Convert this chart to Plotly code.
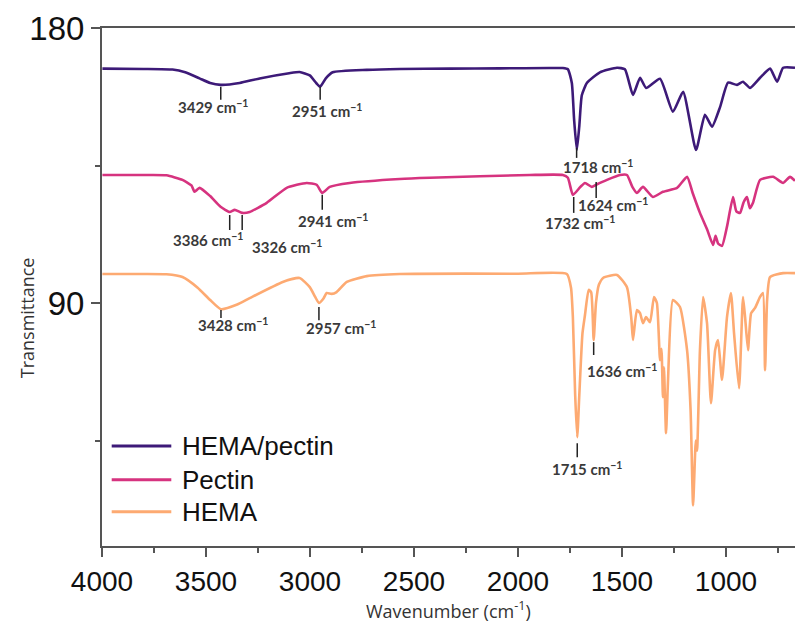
import plotly.graph_objects as go

# ---------------- data ----------------
hp_wn = [3998, 3800, 3661, 3600, 3531, 3480, 3429, 3338, 3242, 3100, 3050, 3001, 2970, 2951, 2924, 2891,
         2727, 2568, 2328, 2087, 1850, 1784, 1760, 1741, 1730, 1717, 1705, 1693, 1668, 1606, 1524, 1486,
         1447, 1413, 1384, 1317, 1255, 1206, 1144, 1101, 1067, 1028, 990, 947, 918, 884, 836, 788, 754,
         725, 668]
hp_t = [166.7, 166.6, 166.4, 165.5, 163.5, 162.0, 161.4, 162.0, 163.5, 165.2, 165.6, 164.5, 162.0, 160.8,
        163.5, 165.5, 166.3, 166.6, 166.7, 166.8, 166.9, 166.9, 166.5, 162.0, 150.0, 140.1, 148.0, 158.0,
        162.1, 165.5, 167.0, 166.5, 158.1, 163.7, 160.4, 163.4, 152.6, 159.1, 140.1, 151.6, 147.7, 154.2,
        162.1, 161.4, 162.4, 160.4, 163.7, 166.7, 162.4, 167.0, 167.0]

pe_wn = [3998, 3800, 3690, 3613, 3570, 3555, 3531, 3480, 3430, 3386, 3362, 3326, 3290, 3208, 3112, 3016,
         2968, 2941, 2905, 2809, 2568, 2424, 1943, 1784, 1760, 1736, 1700, 1678, 1645, 1624, 1572, 1510,
         1476, 1450, 1428, 1399, 1351, 1303, 1235, 1187, 1160, 1125, 1090, 1062, 1050, 1038, 1019, 995,
         966, 950, 932, 915, 899, 885, 870, 836, 773, 725, 692, 668]
pe_t = [131.9, 131.9, 131.8, 130.3, 128.5, 126.4, 127.7, 125.0, 121.5, 119.8, 120.5, 119.5, 119.8, 122.8,
        127.7, 129.3, 128.7, 126.0, 128.0, 129.3, 130.6, 131.0, 131.9, 131.9, 131.0, 125.4, 128.0, 129.3,
        128.0, 128.7, 130.3, 131.9, 131.9, 128.0, 126.0, 128.0, 124.7, 126.4, 127.7, 131.3, 126.0, 119.5,
        114.0, 109.0, 112.0, 109.5, 108.7, 115.0, 124.7, 120.0, 119.5, 123.0, 124.7, 121.0, 122.8, 130.3,
        131.3, 129.3, 131.3, 130.0]

he_wn = [3998, 3800, 3690, 3613, 3540, 3480, 3428, 3350, 3290, 3131, 3050, 3001, 2975, 2957, 2935, 2920,
         2896, 2872, 2823, 2727, 2568, 2000, 1765, 1745, 1736, 1725, 1715, 1705, 1690, 1678, 1660, 1648,
         1636, 1625, 1611, 1591, 1524, 1476, 1455, 1447, 1428, 1413, 1399, 1384, 1365, 1346, 1332, 1317,
         1310, 1303, 1298, 1288, 1279, 1255, 1221, 1187, 1170, 1158, 1145, 1139, 1125, 1110, 1091, 1072,
         1052, 1038, 1019, 995, 976, 961, 937, 918, 908, 894, 879, 860, 836, 822, 812, 802, 788, 725, 668]
he_t = [99.5, 99.5, 99.4, 98.5, 95.0, 91.0, 88.0, 89.5, 91.6, 96.9, 98.2, 95.2, 92.0, 90.0, 91.5, 93.3,
        93.0, 93.6, 96.9, 98.8, 99.5, 99.6, 99.5, 95.0, 85.4, 60.0, 46.1, 60.0, 80.0, 86.0, 94.3, 93.5,
        77.9, 90.0, 96.0, 98.2, 99.2, 95.2, 85.0, 77.9, 87.7, 86.7, 83.4, 85.4, 83.7, 92.0, 90.0, 71.3,
        75.0, 59.2, 69.0, 47.4, 63.8, 91.0, 88.7, 74.6, 55.0, 23.8, 45.0, 41.7, 74.6, 92.0, 83.4, 57.2,
        74.6, 77.9, 64.8, 85.4, 93.3, 80.1, 62.1, 92.0, 85.4, 74.6, 86.7, 88.4, 92.0, 93.3, 68.0, 91.0,
        98.5, 99.8, 99.8]

series_names = ["HEMA/pectin", "Pectin", "HEMA"]
series_colors = ["#3d1a78", "#d6337f", "#fdaa72"]

x_ticks = [4000, 3500, 3000, 2500, 2000, 1500, 1000]
y_ticks = [90, 180]

# peak labels: text, peak wavenumber, tick y0, tick y1, text wavenumber, text y
peak_labels = [
    ("3429", 3429, 160.8, 156.5, 3468, 154.3),
    ("2951", 2951, 160.8, 156.5, 2920, 153.0),
    ("1718", 1718, 140.8, 137.5, 1615, 134.6),
    ("3386", 3386, 118.8, 113.9, 3492, 110.7),
    ("3326", 3326, 118.8, 113.9, 3112, 108.4),
    ("2941", 2941, 125.4, 120.5, 2891, 116.9),
    ("1732", 1732, 124.7, 119.5, 1702, 116.2),
    ("1624", 1624, 129.6, 124.4, 1543, 122.4),
    ("3428", 3428, 87.7, 85.1, 3372, 83.1),
    ("2957", 2957, 88.7, 84.4, 2852, 82.1),
    ("1636", 1636, 77.2, 73.0, 1500, 68.0),
    ("1715", 1715, 44.1, 39.5, 1669, 36.0),
]

# ---------------- figure ----------------
fig = go.Figure()
for name, wn, t, col in zip(series_names, [hp_wn, pe_wn, he_wn], [hp_t, pe_t, he_t], series_colors):
    fig.add_trace(go.Scatter(x=wn, y=t, mode="lines", name=name,
                             line=dict(color=col, width=2.6, shape="spline", smoothing=0.5),
                             showlegend=False))

shapes = []
annotations = []
for txt, pw, y0, y1, tw, ty in peak_labels:
    shapes.append(dict(type="line", xref="x", yref="y", x0=pw, x1=pw, y0=y0, y1=y1,
                       line=dict(color="#222222", width=1.5)))
    annotations.append(dict(xref="x", yref="y", x=tw, y=ty, showarrow=False,
                            text=f"<b>{txt} cm<sup>−1</sup></b>",
                            font=dict(family="Lato", size=15, color="#3a3a3a")))

# manual legend (paper coordinates)
leg_y = [0.193, 0.128, 0.066]
for name, col, ly in zip(series_names, series_colors, leg_y):
    shapes.append(dict(type="line", xref="paper", yref="paper", x0=0.014, x1=0.1, y0=ly, y1=ly,
                       line=dict(color=col, width=3)))
    annotations.append(dict(xref="paper", yref="paper", x=0.112, y=ly, xanchor="left", yanchor="middle",
                            showarrow=False, text=name,
                            font=dict(family="Liberation Sans, Arial", size=26, color="#111111")))

# axis titles
annotations.append(dict(xref="paper", yref="paper", x=-0.108, y=0.44, showarrow=False, textangle=-90,
                        text="Transmittance", xanchor="center", yanchor="middle",
                        font=dict(family="Open Sans", size=18, color="#333333")))
annotations.append(dict(xref="paper", yref="paper", x=0.5, y=-0.123, showarrow=False,
                        text="Wavenumber (cm<sup>-1</sup>)", xanchor="center", yanchor="middle",
                        font=dict(family="Open Sans", size=18, color="#333333")))

fig.update_layout(
    width=795, height=630,
    margin=dict(l=102, r=0, t=28, b=84),
    paper_bgcolor="white", plot_bgcolor="white",
    shapes=shapes, annotations=annotations,
    showlegend=False,
)
fig.update_xaxes(range=[4000, 668], tickvals=x_ticks, ticktext=[str(v) for v in x_ticks],
                 showline=True, linecolor="#555555", linewidth=2, mirror=True,
                 ticks="outside", ticklen=9, tickwidth=2, tickcolor="#555555",
                 minor=dict(dtick=250, ticks="outside", ticklen=5, tickwidth=2, tickcolor="#555555"),
                 showgrid=False, zeroline=False,
                 tickfont=dict(family="Liberation Sans, Arial", size=28, color="#111111"))
fig.update_yaxes(range=[10.5, 180], tickvals=y_ticks, ticktext=[str(v) for v in y_ticks],
                 showline=True, linecolor="#555555", linewidth=2,
                 ticks="outside", ticklen=9, tickwidth=2, tickcolor="#555555",
                 minor=dict(tickvals=[45, 135], ticks="outside", ticklen=5, tickwidth=2, tickcolor="#555555"),
                 showgrid=False, zeroline=False,
                 tickfont=dict(family="Liberation Sans, Arial", size=33, color="#111111"))

fig.write_html("out.html")
